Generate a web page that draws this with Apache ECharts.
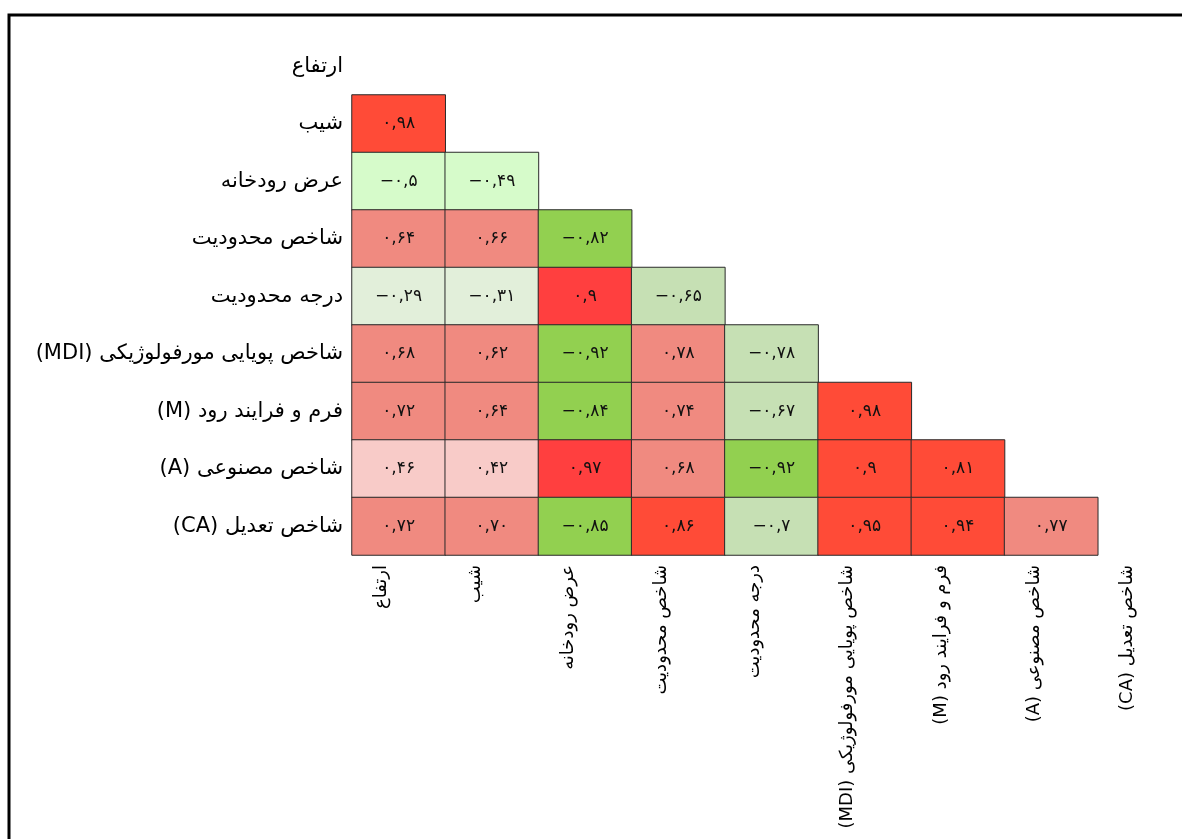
<!DOCTYPE html>
<html><head><meta charset="utf-8">
<script src="https://cdn.jsdelivr.net/npm/echarts@6/dist/echarts.min.js"></script>
<style>html,body{margin:0;padding:0;background:#fff}#c{width:1182px;height:839px}</style>
</head><body><div id="c"></div>
<script>
// Variables (same order on both axes)
const variables = ['ارتفاع', 'شیب', 'عرض رودخانه', 'شاخص محدودیت', 'درجه محدودیت',
  'شاخص پویایی مورفولوژیکی (MDI)', 'فرم و فرایند رود (M)', 'شاخص مصنوعی (A)', 'شاخص تعدیل (CA)'];

// Lower-triangle correlation values (row variable vs earlier column variables)
const corrErtefa = [];
const corrShib = ['0.98'];
const corrArz = ['-0.5', '-0.49'];
const corrShakhesMahdudiyat = ['0.64', '0.66', '-0.82'];
const corrDarajeMahdudiyat = ['-0.29', '-0.31', '0.9', '-0.65'];
const corrMDI = ['0.68', '0.62', '-0.92', '0.78', '-0.78'];
const corrM = ['0.72', '0.64', '-0.84', '0.74', '-0.67', '0.98'];
const corrA = ['0.46', '0.42', '0.97', '0.68', '-0.92', '0.9', '0.81'];
const corrCA = ['0.72', '0.70', '-0.85', '0.86', '-0.7', '0.95', '0.94', '0.77'];

const corrRows = [corrErtefa, corrShib, corrArz, corrShakhesMahdudiyat, corrDarajeMahdudiyat,
  corrMDI, corrM, corrA, corrCA];

function cellColor(v, col) {
  if (v >= 0.8) return col === 2 ? '#FF3F3F' : '#FF4B37';
  if (v >= 0.6) return '#F08A80';
  if (v >= 0) return '#F8CBC8';
  if (v <= -0.8) return '#92D050';
  if (v <= -0.6) return '#C6E0B4';
  if (v <= -0.4) return '#D6FBCA';
  return '#E2EFDA';
}

const faDigits = '۰۱۲۳۴۵۶۷۸۹';
function toFa(s) {
  return s.replace(/[0-9]/g, d => faDigits[+d]).replace('.', ',').replace('-', '−');
}
const rtl = s => '\u202B' + s + '\u202C';

const data = [];
corrRows.forEach((row, i) => {
  row.forEach((s, j) => {
    const v = Number(s);
    data.push({ value: [j, i, v], raw: s, itemStyle: { color: cellColor(v, j) } });
  });
});

const chart = echarts.init(document.getElementById('c'));
chart.setOption({
  backgroundColor: '#fff',
  animation: false,
  graphic: [{
    type: 'rect', silent: true,
    shape: { x: 9, y: 15, width: 1300, height: 1000 },
    style: { fill: 'none', stroke: '#000', lineWidth: 3 }
  }],
  grid: { left: 352, top: 37.5, width: 839, height: 517.5, outerBoundsMode: 'none', containLabel: false },
  xAxis: {
    type: 'category', data: variables, position: 'bottom',
    axisLine: { show: false }, axisTick: { show: false }, splitLine: { show: false },
    axisLabel: {
      interval: 0, rotate: 90, margin: 10, fontSize: 18, color: '#000',
      fontFamily: 'DejaVu Sans',
      verticalAlign: 'bottom', padding: [0, 0, 8, 0],
      formatter: rtl
    }
  },
  yAxis: {
    type: 'category', data: variables, inverse: true,
    axisLine: { show: false }, axisTick: { show: false }, splitLine: { show: false },
    axisLabel: {
      interval: 0, fontSize: 21, margin: 9, color: '#000',
      fontFamily: 'DejaVu Sans', padding: [0, 0, 10, 0],
      formatter: rtl
    }
  },
  series: [{
    type: 'heatmap',
    data: data,
    itemStyle: { borderColor: '#2a2a2a', borderWidth: 1 },
    label: {
      show: true, color: '#111', fontSize: 17, fontFamily: 'DejaVu Sans',
      formatter: p => toFa(p.data.raw)
    },
    emphasis: { disabled: true }
  }]
});
</script></body></html>
